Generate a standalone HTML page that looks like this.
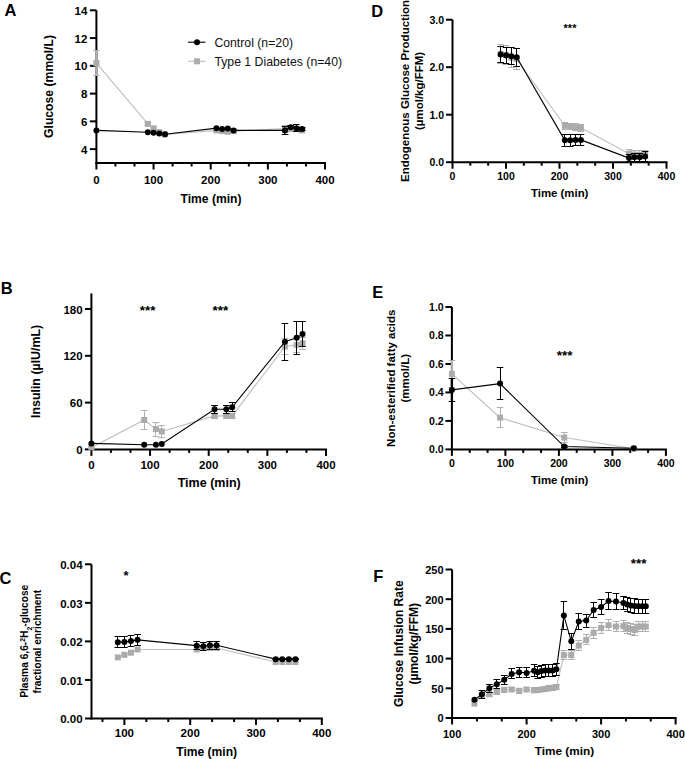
<!DOCTYPE html>
<html><head><meta charset="utf-8"><style>
html,body{margin:0;padding:0;background:#fff;}
svg{display:block;font-family:"Liberation Sans", sans-serif;}
</style></head><body>
<svg width="685" height="759" viewBox="0 0 685 759">
<rect width="685" height="759" fill="#fff"/>
<text x="4.60" y="15.80" font-size="16.5" font-weight="bold" text-anchor="start" fill="#000">A</text>
<line x1="96.40" y1="10.32" x2="96.40" y2="164.00" stroke="#000" stroke-width="2"/>
<line x1="95.40" y1="163.00" x2="326.00" y2="163.00" stroke="#000" stroke-width="2"/>
<line x1="89.90" y1="149.12" x2="96.40" y2="149.12" stroke="#000" stroke-width="2"/>
<text x="87.30" y="153.62" font-size="11.5" font-weight="bold" text-anchor="end" fill="#000">4</text>
<line x1="89.90" y1="121.36" x2="96.40" y2="121.36" stroke="#000" stroke-width="2"/>
<text x="87.30" y="125.86" font-size="11.5" font-weight="bold" text-anchor="end" fill="#000">6</text>
<line x1="89.90" y1="93.60" x2="96.40" y2="93.60" stroke="#000" stroke-width="2"/>
<text x="87.30" y="98.10" font-size="11.5" font-weight="bold" text-anchor="end" fill="#000">8</text>
<line x1="89.90" y1="65.84" x2="96.40" y2="65.84" stroke="#000" stroke-width="2"/>
<text x="87.30" y="70.34" font-size="11.5" font-weight="bold" text-anchor="end" fill="#000">10</text>
<line x1="89.90" y1="38.08" x2="96.40" y2="38.08" stroke="#000" stroke-width="2"/>
<text x="87.30" y="42.58" font-size="11.5" font-weight="bold" text-anchor="end" fill="#000">12</text>
<line x1="89.90" y1="10.32" x2="96.40" y2="10.32" stroke="#000" stroke-width="2"/>
<text x="87.30" y="14.82" font-size="11.5" font-weight="bold" text-anchor="end" fill="#000">14</text>
<line x1="96.40" y1="163.00" x2="96.40" y2="169.50" stroke="#000" stroke-width="2"/>
<text x="96.40" y="184.40" font-size="11.5" font-weight="bold" text-anchor="middle" fill="#000">0</text>
<line x1="153.55" y1="163.00" x2="153.55" y2="169.50" stroke="#000" stroke-width="2"/>
<text x="153.55" y="184.40" font-size="11.5" font-weight="bold" text-anchor="middle" fill="#000">100</text>
<line x1="210.70" y1="163.00" x2="210.70" y2="169.50" stroke="#000" stroke-width="2"/>
<text x="210.70" y="184.40" font-size="11.5" font-weight="bold" text-anchor="middle" fill="#000">200</text>
<line x1="267.85" y1="163.00" x2="267.85" y2="169.50" stroke="#000" stroke-width="2"/>
<text x="267.85" y="184.40" font-size="11.5" font-weight="bold" text-anchor="middle" fill="#000">300</text>
<line x1="325.00" y1="163.00" x2="325.00" y2="169.50" stroke="#000" stroke-width="2"/>
<text x="325.00" y="184.40" font-size="11.5" font-weight="bold" text-anchor="middle" fill="#000">400</text>
<line x1="115.45" y1="163.00" x2="115.45" y2="166.50" stroke="#000" stroke-width="2"/>
<line x1="134.50" y1="163.00" x2="134.50" y2="166.50" stroke="#000" stroke-width="2"/>
<line x1="172.60" y1="163.00" x2="172.60" y2="166.50" stroke="#000" stroke-width="2"/>
<line x1="191.65" y1="163.00" x2="191.65" y2="166.50" stroke="#000" stroke-width="2"/>
<line x1="229.75" y1="163.00" x2="229.75" y2="166.50" stroke="#000" stroke-width="2"/>
<line x1="248.80" y1="163.00" x2="248.80" y2="166.50" stroke="#000" stroke-width="2"/>
<line x1="286.90" y1="163.00" x2="286.90" y2="166.50" stroke="#000" stroke-width="2"/>
<line x1="305.95" y1="163.00" x2="305.95" y2="166.50" stroke="#000" stroke-width="2"/>
<text x="211.00" y="202.80" font-size="12.1" font-weight="bold" text-anchor="middle" fill="#000">Time (min)</text>
<text x="52.50" y="86.50" font-size="12.2" font-weight="bold" text-anchor="middle" transform="rotate(-90 52.5 86.5)" fill="#000">Glucose (mmol/L)</text>
<path d="M96.40,63.06 L147.84,123.86 L153.55,128.30 L159.27,132.19 L164.98,134.41 L216.42,130.38 L222.13,131.08 L227.84,131.77 L233.56,131.08 L285.00,128.58 L290.71,128.30 L296.43,128.99 L302.14,130.38" fill="none" stroke="#bebebe" stroke-width="1.1"/>
<line x1="96.40" y1="50.50" x2="96.40" y2="75.50" stroke="#b0b0b0" stroke-width="2.3"/>
<line x1="93.10" y1="50.50" x2="99.70" y2="50.50" stroke="#b0b0b0" stroke-width="1.0"/>
<line x1="93.10" y1="75.50" x2="99.70" y2="75.50" stroke="#b0b0b0" stroke-width="1.0"/>
<line x1="147.50" y1="122.50" x2="147.50" y2="125.50" stroke="#b0b0b0" stroke-width="1.0"/>
<line x1="144.53" y1="122.50" x2="151.14" y2="122.50" stroke="#b0b0b0" stroke-width="1.0"/>
<line x1="144.53" y1="125.50" x2="151.14" y2="125.50" stroke="#b0b0b0" stroke-width="1.0"/>
<line x1="153.50" y1="126.50" x2="153.50" y2="129.50" stroke="#b0b0b0" stroke-width="1.0"/>
<line x1="150.25" y1="126.50" x2="156.85" y2="126.50" stroke="#b0b0b0" stroke-width="1.0"/>
<line x1="150.25" y1="129.50" x2="156.85" y2="129.50" stroke="#b0b0b0" stroke-width="1.0"/>
<line x1="159.50" y1="130.50" x2="159.50" y2="133.50" stroke="#b0b0b0" stroke-width="1.0"/>
<line x1="155.97" y1="130.50" x2="162.57" y2="130.50" stroke="#b0b0b0" stroke-width="1.0"/>
<line x1="155.97" y1="133.50" x2="162.57" y2="133.50" stroke="#b0b0b0" stroke-width="1.0"/>
<line x1="164.50" y1="133.50" x2="164.50" y2="135.50" stroke="#b0b0b0" stroke-width="1.0"/>
<line x1="161.68" y1="133.50" x2="168.28" y2="133.50" stroke="#b0b0b0" stroke-width="1.0"/>
<line x1="161.68" y1="135.50" x2="168.28" y2="135.50" stroke="#b0b0b0" stroke-width="1.0"/>
<line x1="216.50" y1="128.50" x2="216.50" y2="131.50" stroke="#b0b0b0" stroke-width="1.0"/>
<line x1="213.12" y1="128.50" x2="219.72" y2="128.50" stroke="#b0b0b0" stroke-width="1.0"/>
<line x1="213.12" y1="131.50" x2="219.72" y2="131.50" stroke="#b0b0b0" stroke-width="1.0"/>
<line x1="222.50" y1="129.50" x2="222.50" y2="132.50" stroke="#b0b0b0" stroke-width="1.0"/>
<line x1="218.83" y1="129.50" x2="225.43" y2="129.50" stroke="#b0b0b0" stroke-width="1.0"/>
<line x1="218.83" y1="132.50" x2="225.43" y2="132.50" stroke="#b0b0b0" stroke-width="1.0"/>
<line x1="227.50" y1="130.50" x2="227.50" y2="133.50" stroke="#b0b0b0" stroke-width="1.0"/>
<line x1="224.54" y1="130.50" x2="231.15" y2="130.50" stroke="#b0b0b0" stroke-width="1.0"/>
<line x1="224.54" y1="133.50" x2="231.15" y2="133.50" stroke="#b0b0b0" stroke-width="1.0"/>
<line x1="233.50" y1="129.50" x2="233.50" y2="132.50" stroke="#b0b0b0" stroke-width="1.0"/>
<line x1="230.26" y1="129.50" x2="236.86" y2="129.50" stroke="#b0b0b0" stroke-width="1.0"/>
<line x1="230.26" y1="132.50" x2="236.86" y2="132.50" stroke="#b0b0b0" stroke-width="1.0"/>
<line x1="284.50" y1="125.50" x2="284.50" y2="132.50" stroke="#b0b0b0" stroke-width="1.0"/>
<line x1="281.69" y1="125.50" x2="288.30" y2="125.50" stroke="#b0b0b0" stroke-width="1.0"/>
<line x1="281.69" y1="132.50" x2="288.30" y2="132.50" stroke="#b0b0b0" stroke-width="1.0"/>
<line x1="290.50" y1="125.50" x2="290.50" y2="131.50" stroke="#b0b0b0" stroke-width="1.0"/>
<line x1="287.41" y1="125.50" x2="294.01" y2="125.50" stroke="#b0b0b0" stroke-width="1.0"/>
<line x1="287.41" y1="131.50" x2="294.01" y2="131.50" stroke="#b0b0b0" stroke-width="1.0"/>
<line x1="296.50" y1="126.50" x2="296.50" y2="131.50" stroke="#b0b0b0" stroke-width="1.0"/>
<line x1="293.12" y1="126.50" x2="299.73" y2="126.50" stroke="#b0b0b0" stroke-width="1.0"/>
<line x1="293.12" y1="131.50" x2="299.73" y2="131.50" stroke="#b0b0b0" stroke-width="1.0"/>
<line x1="302.50" y1="128.50" x2="302.50" y2="132.50" stroke="#b0b0b0" stroke-width="1.0"/>
<line x1="298.84" y1="128.50" x2="305.44" y2="128.50" stroke="#b0b0b0" stroke-width="1.0"/>
<line x1="298.84" y1="132.50" x2="305.44" y2="132.50" stroke="#b0b0b0" stroke-width="1.0"/>
<rect x="93.40" y="60.06" width="6.0" height="6.0" fill="#ababab"/>
<rect x="144.84" y="120.86" width="6.0" height="6.0" fill="#ababab"/>
<rect x="150.55" y="125.30" width="6.0" height="6.0" fill="#ababab"/>
<rect x="156.27" y="129.19" width="6.0" height="6.0" fill="#ababab"/>
<rect x="161.98" y="131.41" width="6.0" height="6.0" fill="#ababab"/>
<rect x="213.42" y="127.38" width="6.0" height="6.0" fill="#ababab"/>
<rect x="219.13" y="128.08" width="6.0" height="6.0" fill="#ababab"/>
<rect x="224.84" y="128.77" width="6.0" height="6.0" fill="#ababab"/>
<rect x="230.56" y="128.08" width="6.0" height="6.0" fill="#ababab"/>
<rect x="282.00" y="125.58" width="6.0" height="6.0" fill="#ababab"/>
<rect x="287.71" y="125.30" width="6.0" height="6.0" fill="#ababab"/>
<rect x="293.43" y="125.99" width="6.0" height="6.0" fill="#ababab"/>
<rect x="299.14" y="127.38" width="6.0" height="6.0" fill="#ababab"/>
<path d="M96.40,130.38 L147.84,132.19 L153.55,132.74 L159.27,133.57 L164.98,134.27 L216.42,128.16 L222.13,128.99 L227.84,128.44 L233.56,130.38 L285.00,130.38 L290.71,127.19 L296.43,128.16 L302.14,128.99" fill="none" stroke="#000" stroke-width="1.1"/>
<line x1="284.50" y1="126.50" x2="284.50" y2="134.50" stroke="#000" stroke-width="1.0"/>
<line x1="281.69" y1="126.50" x2="288.30" y2="126.50" stroke="#000" stroke-width="1.0"/>
<line x1="281.69" y1="134.50" x2="288.30" y2="134.50" stroke="#000" stroke-width="1.0"/>
<line x1="290.50" y1="125.50" x2="290.50" y2="128.50" stroke="#000" stroke-width="1.0"/>
<line x1="287.41" y1="125.50" x2="294.01" y2="125.50" stroke="#000" stroke-width="1.0"/>
<line x1="287.41" y1="128.50" x2="294.01" y2="128.50" stroke="#000" stroke-width="1.0"/>
<line x1="296.50" y1="124.50" x2="296.50" y2="131.50" stroke="#000" stroke-width="1.0"/>
<line x1="293.12" y1="124.50" x2="299.73" y2="124.50" stroke="#000" stroke-width="1.0"/>
<line x1="293.12" y1="131.50" x2="299.73" y2="131.50" stroke="#000" stroke-width="1.0"/>
<line x1="302.50" y1="127.50" x2="302.50" y2="130.50" stroke="#000" stroke-width="1.0"/>
<line x1="298.84" y1="127.50" x2="305.44" y2="127.50" stroke="#000" stroke-width="1.0"/>
<line x1="298.84" y1="130.50" x2="305.44" y2="130.50" stroke="#000" stroke-width="1.0"/>
<circle cx="96.40" cy="130.38" r="3.0" fill="#000"/>
<circle cx="147.84" cy="132.19" r="3.0" fill="#000"/>
<circle cx="153.55" cy="132.74" r="3.0" fill="#000"/>
<circle cx="159.27" cy="133.57" r="3.0" fill="#000"/>
<circle cx="164.98" cy="134.27" r="3.0" fill="#000"/>
<circle cx="216.42" cy="128.16" r="3.0" fill="#000"/>
<circle cx="222.13" cy="128.99" r="3.0" fill="#000"/>
<circle cx="227.84" cy="128.44" r="3.0" fill="#000"/>
<circle cx="233.56" cy="130.38" r="3.0" fill="#000"/>
<circle cx="285.00" cy="130.38" r="3.0" fill="#000"/>
<circle cx="290.71" cy="127.19" r="3.0" fill="#000"/>
<circle cx="296.43" cy="128.16" r="3.0" fill="#000"/>
<circle cx="302.14" cy="128.99" r="3.0" fill="#000"/>
<line x1="188.00" y1="42.20" x2="205.40" y2="42.20" stroke="#000" stroke-width="1.1"/>
<circle cx="197" cy="42.2" r="3.0" fill="#000"/>
<text x="214.40" y="46.80" font-size="12.25" font-weight="normal" text-anchor="start" fill="#111">Control (n=20)</text>
<line x1="188.00" y1="61.30" x2="205.40" y2="61.30" stroke="#bebebe" stroke-width="1.1"/>
<rect x="194" y="58.3" width="6" height="6" fill="#ababab"/>
<text x="214.40" y="65.80" font-size="12.25" font-weight="normal" text-anchor="start" fill="#111">Type 1 Diabetes (n=40)</text>
<text x="0.80" y="293.50" font-size="16.5" font-weight="bold" text-anchor="start" fill="#000">B</text>
<line x1="91.40" y1="293.40" x2="91.40" y2="450.40" stroke="#000" stroke-width="2"/>
<line x1="90.40" y1="449.40" x2="327.00" y2="449.40" stroke="#000" stroke-width="2"/>
<line x1="84.90" y1="449.40" x2="91.40" y2="449.40" stroke="#000" stroke-width="2"/>
<text x="82.60" y="453.90" font-size="11.5" font-weight="bold" text-anchor="end" fill="#000">0</text>
<line x1="84.90" y1="402.60" x2="91.40" y2="402.60" stroke="#000" stroke-width="2"/>
<text x="82.60" y="407.10" font-size="11.5" font-weight="bold" text-anchor="end" fill="#000">60</text>
<line x1="84.90" y1="355.80" x2="91.40" y2="355.80" stroke="#000" stroke-width="2"/>
<text x="82.60" y="360.30" font-size="11.5" font-weight="bold" text-anchor="end" fill="#000">120</text>
<line x1="84.90" y1="309.00" x2="91.40" y2="309.00" stroke="#000" stroke-width="2"/>
<text x="82.60" y="313.50" font-size="11.5" font-weight="bold" text-anchor="end" fill="#000">180</text>
<line x1="91.40" y1="449.40" x2="91.40" y2="455.90" stroke="#000" stroke-width="2"/>
<text x="91.40" y="468.90" font-size="11.5" font-weight="bold" text-anchor="middle" fill="#000">0</text>
<line x1="150.05" y1="449.40" x2="150.05" y2="455.90" stroke="#000" stroke-width="2"/>
<text x="150.05" y="468.90" font-size="11.5" font-weight="bold" text-anchor="middle" fill="#000">100</text>
<line x1="208.70" y1="449.40" x2="208.70" y2="455.90" stroke="#000" stroke-width="2"/>
<text x="208.70" y="468.90" font-size="11.5" font-weight="bold" text-anchor="middle" fill="#000">200</text>
<line x1="267.35" y1="449.40" x2="267.35" y2="455.90" stroke="#000" stroke-width="2"/>
<text x="267.35" y="468.90" font-size="11.5" font-weight="bold" text-anchor="middle" fill="#000">300</text>
<line x1="326.00" y1="449.40" x2="326.00" y2="455.90" stroke="#000" stroke-width="2"/>
<text x="326.00" y="468.90" font-size="11.5" font-weight="bold" text-anchor="middle" fill="#000">400</text>
<line x1="110.95" y1="449.40" x2="110.95" y2="452.90" stroke="#000" stroke-width="2"/>
<line x1="130.50" y1="449.40" x2="130.50" y2="452.90" stroke="#000" stroke-width="2"/>
<line x1="169.60" y1="449.40" x2="169.60" y2="452.90" stroke="#000" stroke-width="2"/>
<line x1="189.15" y1="449.40" x2="189.15" y2="452.90" stroke="#000" stroke-width="2"/>
<line x1="228.25" y1="449.40" x2="228.25" y2="452.90" stroke="#000" stroke-width="2"/>
<line x1="247.80" y1="449.40" x2="247.80" y2="452.90" stroke="#000" stroke-width="2"/>
<line x1="286.90" y1="449.40" x2="286.90" y2="452.90" stroke="#000" stroke-width="2"/>
<line x1="306.45" y1="449.40" x2="306.45" y2="452.90" stroke="#000" stroke-width="2"/>
<text x="209.20" y="486.90" font-size="12.5" font-weight="bold" text-anchor="middle" fill="#000">Time (min)</text>
<text x="40.20" y="371.40" font-size="12.4" font-weight="bold" text-anchor="middle" transform="rotate(-90 40.2 371.4)" fill="#000">Insulin (µIU/mL)</text>
<text x="147.70" y="314.80" font-size="13.5" font-weight="bold" text-anchor="middle" fill="#000">***</text>
<text x="220.30" y="315.20" font-size="13.5" font-weight="bold" text-anchor="middle" fill="#000">***</text>
<path d="M91.40,447.45 L144.19,419.99 L155.92,429.12 L161.78,431.46 L214.56,415.86 L226.30,415.86 L232.16,415.86 L284.95,346.44 L296.68,344.88 L302.54,343.32" fill="none" stroke="#bebebe" stroke-width="1.1"/>
<line x1="91.40" y1="446.50" x2="91.40" y2="448.50" stroke="#b0b0b0" stroke-width="2.3"/>
<line x1="88.10" y1="446.50" x2="94.70" y2="446.50" stroke="#b0b0b0" stroke-width="1.0"/>
<line x1="88.10" y1="448.50" x2="94.70" y2="448.50" stroke="#b0b0b0" stroke-width="1.0"/>
<line x1="144.50" y1="410.50" x2="144.50" y2="429.50" stroke="#b0b0b0" stroke-width="1.0"/>
<line x1="140.88" y1="410.50" x2="147.49" y2="410.50" stroke="#b0b0b0" stroke-width="1.0"/>
<line x1="140.88" y1="429.50" x2="147.49" y2="429.50" stroke="#b0b0b0" stroke-width="1.0"/>
<line x1="155.50" y1="422.50" x2="155.50" y2="436.50" stroke="#b0b0b0" stroke-width="1.0"/>
<line x1="152.62" y1="422.50" x2="159.22" y2="422.50" stroke="#b0b0b0" stroke-width="1.0"/>
<line x1="152.62" y1="436.50" x2="159.22" y2="436.50" stroke="#b0b0b0" stroke-width="1.0"/>
<line x1="161.50" y1="425.50" x2="161.50" y2="437.50" stroke="#b0b0b0" stroke-width="1.0"/>
<line x1="158.48" y1="425.50" x2="165.08" y2="425.50" stroke="#b0b0b0" stroke-width="1.0"/>
<line x1="158.48" y1="437.50" x2="165.08" y2="437.50" stroke="#b0b0b0" stroke-width="1.0"/>
<line x1="214.50" y1="413.50" x2="214.50" y2="418.50" stroke="#b0b0b0" stroke-width="1.0"/>
<line x1="211.26" y1="413.50" x2="217.87" y2="413.50" stroke="#b0b0b0" stroke-width="1.0"/>
<line x1="211.26" y1="418.50" x2="217.87" y2="418.50" stroke="#b0b0b0" stroke-width="1.0"/>
<line x1="226.50" y1="413.50" x2="226.50" y2="418.50" stroke="#b0b0b0" stroke-width="1.0"/>
<line x1="223.00" y1="413.50" x2="229.60" y2="413.50" stroke="#b0b0b0" stroke-width="1.0"/>
<line x1="223.00" y1="418.50" x2="229.60" y2="418.50" stroke="#b0b0b0" stroke-width="1.0"/>
<line x1="232.50" y1="413.50" x2="232.50" y2="418.50" stroke="#b0b0b0" stroke-width="1.0"/>
<line x1="228.86" y1="413.50" x2="235.46" y2="413.50" stroke="#b0b0b0" stroke-width="1.0"/>
<line x1="228.86" y1="418.50" x2="235.46" y2="418.50" stroke="#b0b0b0" stroke-width="1.0"/>
<line x1="284.50" y1="338.50" x2="284.50" y2="354.50" stroke="#b0b0b0" stroke-width="1.0"/>
<line x1="281.65" y1="338.50" x2="288.25" y2="338.50" stroke="#b0b0b0" stroke-width="1.0"/>
<line x1="281.65" y1="354.50" x2="288.25" y2="354.50" stroke="#b0b0b0" stroke-width="1.0"/>
<line x1="296.50" y1="337.50" x2="296.50" y2="352.50" stroke="#b0b0b0" stroke-width="1.0"/>
<line x1="293.38" y1="337.50" x2="299.98" y2="337.50" stroke="#b0b0b0" stroke-width="1.0"/>
<line x1="293.38" y1="352.50" x2="299.98" y2="352.50" stroke="#b0b0b0" stroke-width="1.0"/>
<line x1="302.50" y1="337.50" x2="302.50" y2="349.50" stroke="#b0b0b0" stroke-width="1.0"/>
<line x1="299.24" y1="337.50" x2="305.84" y2="337.50" stroke="#b0b0b0" stroke-width="1.0"/>
<line x1="299.24" y1="349.50" x2="305.84" y2="349.50" stroke="#b0b0b0" stroke-width="1.0"/>
<rect x="88.40" y="444.45" width="6.0" height="6.0" fill="#ababab"/>
<rect x="141.19" y="416.99" width="6.0" height="6.0" fill="#ababab"/>
<rect x="152.92" y="426.12" width="6.0" height="6.0" fill="#ababab"/>
<rect x="158.78" y="428.46" width="6.0" height="6.0" fill="#ababab"/>
<rect x="211.56" y="412.86" width="6.0" height="6.0" fill="#ababab"/>
<rect x="223.30" y="412.86" width="6.0" height="6.0" fill="#ababab"/>
<rect x="229.16" y="412.86" width="6.0" height="6.0" fill="#ababab"/>
<rect x="281.95" y="343.44" width="6.0" height="6.0" fill="#ababab"/>
<rect x="293.68" y="341.88" width="6.0" height="6.0" fill="#ababab"/>
<rect x="299.54" y="340.32" width="6.0" height="6.0" fill="#ababab"/>
<path d="M91.40,443.39 L144.19,444.72 L155.92,444.72 L161.78,443.94 L214.56,409.23 L226.30,409.23 L232.16,407.28 L284.95,341.76 L296.68,337.86 L302.54,333.96" fill="none" stroke="#000" stroke-width="1.1"/>
<line x1="214.50" y1="405.50" x2="214.50" y2="413.50" stroke="#000" stroke-width="1.0"/>
<line x1="211.26" y1="405.50" x2="217.87" y2="405.50" stroke="#000" stroke-width="1.0"/>
<line x1="211.26" y1="413.50" x2="217.87" y2="413.50" stroke="#000" stroke-width="1.0"/>
<line x1="226.50" y1="405.50" x2="226.50" y2="413.50" stroke="#000" stroke-width="1.0"/>
<line x1="223.00" y1="405.50" x2="229.60" y2="405.50" stroke="#000" stroke-width="1.0"/>
<line x1="223.00" y1="413.50" x2="229.60" y2="413.50" stroke="#000" stroke-width="1.0"/>
<line x1="232.50" y1="402.50" x2="232.50" y2="411.50" stroke="#000" stroke-width="1.0"/>
<line x1="228.86" y1="402.50" x2="235.46" y2="402.50" stroke="#000" stroke-width="1.0"/>
<line x1="228.86" y1="411.50" x2="235.46" y2="411.50" stroke="#000" stroke-width="1.0"/>
<line x1="284.50" y1="323.50" x2="284.50" y2="360.50" stroke="#000" stroke-width="1.0"/>
<line x1="281.65" y1="323.50" x2="288.25" y2="323.50" stroke="#000" stroke-width="1.0"/>
<line x1="281.65" y1="360.50" x2="288.25" y2="360.50" stroke="#000" stroke-width="1.0"/>
<line x1="296.50" y1="321.50" x2="296.50" y2="354.50" stroke="#000" stroke-width="1.0"/>
<line x1="293.38" y1="321.50" x2="299.98" y2="321.50" stroke="#000" stroke-width="1.0"/>
<line x1="293.38" y1="354.50" x2="299.98" y2="354.50" stroke="#000" stroke-width="1.0"/>
<line x1="302.50" y1="321.50" x2="302.50" y2="346.50" stroke="#000" stroke-width="1.0"/>
<line x1="299.24" y1="321.50" x2="305.84" y2="321.50" stroke="#000" stroke-width="1.0"/>
<line x1="299.24" y1="346.50" x2="305.84" y2="346.50" stroke="#000" stroke-width="1.0"/>
<circle cx="91.40" cy="443.39" r="3.0" fill="#000"/>
<circle cx="144.19" cy="444.72" r="3.0" fill="#000"/>
<circle cx="155.92" cy="444.72" r="3.0" fill="#000"/>
<circle cx="161.78" cy="443.94" r="3.0" fill="#000"/>
<circle cx="214.56" cy="409.23" r="3.0" fill="#000"/>
<circle cx="226.30" cy="409.23" r="3.0" fill="#000"/>
<circle cx="232.16" cy="407.28" r="3.0" fill="#000"/>
<circle cx="284.95" cy="341.76" r="3.0" fill="#000"/>
<circle cx="296.68" cy="337.86" r="3.0" fill="#000"/>
<circle cx="302.54" cy="333.96" r="3.0" fill="#000"/>
<text x="-0.40" y="584.30" font-size="16.5" font-weight="bold" text-anchor="start" fill="#000">C</text>
<line x1="91.50" y1="564.30" x2="91.50" y2="719.50" stroke="#000" stroke-width="2"/>
<line x1="90.50" y1="718.50" x2="322.80" y2="718.50" stroke="#000" stroke-width="2"/>
<line x1="85.00" y1="718.50" x2="91.50" y2="718.50" stroke="#000" stroke-width="2"/>
<text x="82.60" y="723.30" font-size="11.5" font-weight="bold" text-anchor="end" fill="#000">0.00</text>
<line x1="85.00" y1="679.95" x2="91.50" y2="679.95" stroke="#000" stroke-width="2"/>
<text x="82.60" y="684.75" font-size="11.5" font-weight="bold" text-anchor="end" fill="#000">0.01</text>
<line x1="85.00" y1="641.40" x2="91.50" y2="641.40" stroke="#000" stroke-width="2"/>
<text x="82.60" y="646.20" font-size="11.5" font-weight="bold" text-anchor="end" fill="#000">0.02</text>
<line x1="85.00" y1="602.85" x2="91.50" y2="602.85" stroke="#000" stroke-width="2"/>
<text x="82.60" y="607.65" font-size="11.5" font-weight="bold" text-anchor="end" fill="#000">0.03</text>
<line x1="85.00" y1="564.30" x2="91.50" y2="564.30" stroke="#000" stroke-width="2"/>
<text x="82.60" y="569.10" font-size="11.5" font-weight="bold" text-anchor="end" fill="#000">0.04</text>
<line x1="124.40" y1="718.50" x2="124.40" y2="725.00" stroke="#000" stroke-width="2"/>
<text x="124.40" y="737.20" font-size="11.5" font-weight="bold" text-anchor="middle" fill="#000">100</text>
<line x1="190.20" y1="718.50" x2="190.20" y2="725.00" stroke="#000" stroke-width="2"/>
<text x="190.20" y="737.20" font-size="11.5" font-weight="bold" text-anchor="middle" fill="#000">200</text>
<line x1="256.00" y1="718.50" x2="256.00" y2="725.00" stroke="#000" stroke-width="2"/>
<text x="256.00" y="737.20" font-size="11.5" font-weight="bold" text-anchor="middle" fill="#000">300</text>
<line x1="321.80" y1="718.50" x2="321.80" y2="725.00" stroke="#000" stroke-width="2"/>
<text x="321.80" y="737.20" font-size="11.5" font-weight="bold" text-anchor="middle" fill="#000">400</text>
<line x1="102.47" y1="718.50" x2="102.47" y2="722.00" stroke="#000" stroke-width="2"/>
<line x1="146.33" y1="718.50" x2="146.33" y2="722.00" stroke="#000" stroke-width="2"/>
<line x1="168.27" y1="718.50" x2="168.27" y2="722.00" stroke="#000" stroke-width="2"/>
<line x1="212.13" y1="718.50" x2="212.13" y2="722.00" stroke="#000" stroke-width="2"/>
<line x1="234.07" y1="718.50" x2="234.07" y2="722.00" stroke="#000" stroke-width="2"/>
<line x1="277.93" y1="718.50" x2="277.93" y2="722.00" stroke="#000" stroke-width="2"/>
<line x1="299.87" y1="718.50" x2="299.87" y2="722.00" stroke="#000" stroke-width="2"/>
<text x="206.70" y="756.10" font-size="12.1" font-weight="bold" text-anchor="middle" fill="#000">Time (min)</text>
<text x="28.30" y="641.30" font-size="10.2" font-weight="bold" text-anchor="middle" transform="rotate(-90 28.3 641.3)" fill="#000">Plasma 6,6-<tspan baseline-shift="super" font-size="7">2</tspan>H<tspan baseline-shift="sub" font-size="7">2</tspan>-glucose</text>
<text x="41.40" y="641.70" font-size="10.2" font-weight="bold" text-anchor="middle" transform="rotate(-90 41.4 641.7)" fill="#000">fractional enrichment</text>
<text x="126.00" y="580.40" font-size="13" font-weight="bold" text-anchor="middle" fill="#000">*</text>
<path d="M117.82,657.40 L124.40,654.82 L130.98,652.70 L137.56,649.50 L196.78,649.50 L203.36,647.95 L209.94,647.95 L216.52,647.95 L275.74,662.02 L282.32,662.02 L288.90,662.02 L295.48,662.02" fill="none" stroke="#bebebe" stroke-width="1.1"/>
<rect x="114.82" y="654.40" width="6.0" height="6.0" fill="#ababab"/>
<rect x="121.40" y="651.82" width="6.0" height="6.0" fill="#ababab"/>
<rect x="127.98" y="649.70" width="6.0" height="6.0" fill="#ababab"/>
<rect x="134.56" y="646.50" width="6.0" height="6.0" fill="#ababab"/>
<rect x="193.78" y="646.50" width="6.0" height="6.0" fill="#ababab"/>
<rect x="200.36" y="644.95" width="6.0" height="6.0" fill="#ababab"/>
<rect x="206.94" y="644.95" width="6.0" height="6.0" fill="#ababab"/>
<rect x="213.52" y="644.95" width="6.0" height="6.0" fill="#ababab"/>
<rect x="272.74" y="659.02" width="6.0" height="6.0" fill="#ababab"/>
<rect x="279.32" y="659.02" width="6.0" height="6.0" fill="#ababab"/>
<rect x="285.90" y="659.02" width="6.0" height="6.0" fill="#ababab"/>
<rect x="292.48" y="659.02" width="6.0" height="6.0" fill="#ababab"/>
<path d="M117.82,642.21 L124.40,641.90 L130.98,641.09 L137.56,639.86 L196.78,645.64 L203.36,646.22 L209.94,645.25 L216.52,645.25 L275.74,659.13 L282.32,659.13 L288.90,659.13 L295.48,659.13" fill="none" stroke="#000" stroke-width="1.1"/>
<line x1="117.50" y1="636.50" x2="117.50" y2="647.50" stroke="#000" stroke-width="1.0"/>
<line x1="114.52" y1="636.50" x2="121.12" y2="636.50" stroke="#000" stroke-width="1.0"/>
<line x1="114.52" y1="647.50" x2="121.12" y2="647.50" stroke="#000" stroke-width="1.0"/>
<line x1="124.50" y1="636.50" x2="124.50" y2="647.50" stroke="#000" stroke-width="1.0"/>
<line x1="121.10" y1="636.50" x2="127.70" y2="636.50" stroke="#000" stroke-width="1.0"/>
<line x1="121.10" y1="647.50" x2="127.70" y2="647.50" stroke="#000" stroke-width="1.0"/>
<line x1="130.50" y1="635.50" x2="130.50" y2="646.50" stroke="#000" stroke-width="1.0"/>
<line x1="127.68" y1="635.50" x2="134.28" y2="635.50" stroke="#000" stroke-width="1.0"/>
<line x1="127.68" y1="646.50" x2="134.28" y2="646.50" stroke="#000" stroke-width="1.0"/>
<line x1="137.50" y1="634.50" x2="137.50" y2="645.50" stroke="#000" stroke-width="1.0"/>
<line x1="134.26" y1="634.50" x2="140.86" y2="634.50" stroke="#000" stroke-width="1.0"/>
<line x1="134.26" y1="645.50" x2="140.86" y2="645.50" stroke="#000" stroke-width="1.0"/>
<line x1="196.50" y1="641.50" x2="196.50" y2="649.50" stroke="#000" stroke-width="1.0"/>
<line x1="193.48" y1="641.50" x2="200.08" y2="641.50" stroke="#000" stroke-width="1.0"/>
<line x1="193.48" y1="649.50" x2="200.08" y2="649.50" stroke="#000" stroke-width="1.0"/>
<line x1="203.50" y1="642.50" x2="203.50" y2="650.50" stroke="#000" stroke-width="1.0"/>
<line x1="200.06" y1="642.50" x2="206.66" y2="642.50" stroke="#000" stroke-width="1.0"/>
<line x1="200.06" y1="650.50" x2="206.66" y2="650.50" stroke="#000" stroke-width="1.0"/>
<line x1="209.50" y1="641.50" x2="209.50" y2="649.50" stroke="#000" stroke-width="1.0"/>
<line x1="206.64" y1="641.50" x2="213.24" y2="641.50" stroke="#000" stroke-width="1.0"/>
<line x1="206.64" y1="649.50" x2="213.24" y2="649.50" stroke="#000" stroke-width="1.0"/>
<line x1="216.50" y1="641.50" x2="216.50" y2="649.50" stroke="#000" stroke-width="1.0"/>
<line x1="213.22" y1="641.50" x2="219.82" y2="641.50" stroke="#000" stroke-width="1.0"/>
<line x1="213.22" y1="649.50" x2="219.82" y2="649.50" stroke="#000" stroke-width="1.0"/>
<line x1="275.50" y1="658.50" x2="275.50" y2="659.50" stroke="#000" stroke-width="1.0"/>
<line x1="272.44" y1="658.50" x2="279.04" y2="658.50" stroke="#000" stroke-width="1.0"/>
<line x1="272.44" y1="659.50" x2="279.04" y2="659.50" stroke="#000" stroke-width="1.0"/>
<line x1="282.50" y1="658.50" x2="282.50" y2="659.50" stroke="#000" stroke-width="1.0"/>
<line x1="279.02" y1="658.50" x2="285.62" y2="658.50" stroke="#000" stroke-width="1.0"/>
<line x1="279.02" y1="659.50" x2="285.62" y2="659.50" stroke="#000" stroke-width="1.0"/>
<line x1="288.50" y1="658.50" x2="288.50" y2="659.50" stroke="#000" stroke-width="1.0"/>
<line x1="285.60" y1="658.50" x2="292.20" y2="658.50" stroke="#000" stroke-width="1.0"/>
<line x1="285.60" y1="659.50" x2="292.20" y2="659.50" stroke="#000" stroke-width="1.0"/>
<line x1="295.50" y1="658.50" x2="295.50" y2="659.50" stroke="#000" stroke-width="1.0"/>
<line x1="292.18" y1="658.50" x2="298.78" y2="658.50" stroke="#000" stroke-width="1.0"/>
<line x1="292.18" y1="659.50" x2="298.78" y2="659.50" stroke="#000" stroke-width="1.0"/>
<circle cx="117.82" cy="642.21" r="3.0" fill="#000"/>
<circle cx="124.40" cy="641.90" r="3.0" fill="#000"/>
<circle cx="130.98" cy="641.09" r="3.0" fill="#000"/>
<circle cx="137.56" cy="639.86" r="3.0" fill="#000"/>
<circle cx="196.78" cy="645.64" r="3.0" fill="#000"/>
<circle cx="203.36" cy="646.22" r="3.0" fill="#000"/>
<circle cx="209.94" cy="645.25" r="3.0" fill="#000"/>
<circle cx="216.52" cy="645.25" r="3.0" fill="#000"/>
<circle cx="275.74" cy="659.13" r="3.0" fill="#000"/>
<circle cx="282.32" cy="659.13" r="3.0" fill="#000"/>
<circle cx="288.90" cy="659.13" r="3.0" fill="#000"/>
<circle cx="295.48" cy="659.13" r="3.0" fill="#000"/>
<text x="371.30" y="17.00" font-size="16.5" font-weight="bold" text-anchor="start" fill="#000">D</text>
<line x1="452.50" y1="19.70" x2="452.50" y2="163.20" stroke="#000" stroke-width="2"/>
<line x1="451.50" y1="162.20" x2="667.50" y2="162.20" stroke="#000" stroke-width="2"/>
<line x1="446.00" y1="162.20" x2="452.50" y2="162.20" stroke="#000" stroke-width="2"/>
<text x="444.00" y="166.30" font-size="10.5" font-weight="bold" text-anchor="end" fill="#000">0.0</text>
<line x1="446.00" y1="114.70" x2="452.50" y2="114.70" stroke="#000" stroke-width="2"/>
<text x="444.00" y="118.80" font-size="10.5" font-weight="bold" text-anchor="end" fill="#000">1.0</text>
<line x1="446.00" y1="67.20" x2="452.50" y2="67.20" stroke="#000" stroke-width="2"/>
<text x="444.00" y="71.30" font-size="10.5" font-weight="bold" text-anchor="end" fill="#000">2.0</text>
<line x1="446.00" y1="19.70" x2="452.50" y2="19.70" stroke="#000" stroke-width="2"/>
<text x="444.00" y="23.80" font-size="10.5" font-weight="bold" text-anchor="end" fill="#000">3.0</text>
<line x1="452.50" y1="162.20" x2="452.50" y2="168.70" stroke="#000" stroke-width="2"/>
<text x="452.50" y="180.10" font-size="10.5" font-weight="bold" text-anchor="middle" fill="#000">0</text>
<line x1="506.00" y1="162.20" x2="506.00" y2="168.70" stroke="#000" stroke-width="2"/>
<text x="506.00" y="180.10" font-size="10.5" font-weight="bold" text-anchor="middle" fill="#000">100</text>
<line x1="559.50" y1="162.20" x2="559.50" y2="168.70" stroke="#000" stroke-width="2"/>
<text x="559.50" y="180.10" font-size="10.5" font-weight="bold" text-anchor="middle" fill="#000">200</text>
<line x1="613.00" y1="162.20" x2="613.00" y2="168.70" stroke="#000" stroke-width="2"/>
<text x="613.00" y="180.10" font-size="10.5" font-weight="bold" text-anchor="middle" fill="#000">300</text>
<line x1="666.50" y1="162.20" x2="666.50" y2="168.70" stroke="#000" stroke-width="2"/>
<text x="666.50" y="180.10" font-size="10.5" font-weight="bold" text-anchor="middle" fill="#000">400</text>
<line x1="470.33" y1="162.20" x2="470.33" y2="165.70" stroke="#000" stroke-width="2"/>
<line x1="488.17" y1="162.20" x2="488.17" y2="165.70" stroke="#000" stroke-width="2"/>
<line x1="523.83" y1="162.20" x2="523.83" y2="165.70" stroke="#000" stroke-width="2"/>
<line x1="541.67" y1="162.20" x2="541.67" y2="165.70" stroke="#000" stroke-width="2"/>
<line x1="577.33" y1="162.20" x2="577.33" y2="165.70" stroke="#000" stroke-width="2"/>
<line x1="595.17" y1="162.20" x2="595.17" y2="165.70" stroke="#000" stroke-width="2"/>
<line x1="630.83" y1="162.20" x2="630.83" y2="165.70" stroke="#000" stroke-width="2"/>
<line x1="648.67" y1="162.20" x2="648.67" y2="165.70" stroke="#000" stroke-width="2"/>
<text x="559.70" y="197.20" font-size="11.4" font-weight="bold" text-anchor="middle" fill="#000">Time (min)</text>
<text x="408.60" y="90.90" font-size="11.5" font-weight="bold" text-anchor="middle" transform="rotate(-90 408.6 90.9)" fill="#000">Endogenous Glucose Production</text>
<text x="422.80" y="90.90" font-size="11.5" font-weight="bold" text-anchor="middle" transform="rotate(-90 422.8 90.9)" fill="#000">(µmol/kg/FFM)</text>
<text x="570.00" y="32.40" font-size="11" font-weight="bold" text-anchor="middle" fill="#000">***</text>
<path d="M500.65,53.90 L506.00,55.32 L511.35,57.70 L516.70,59.12 L564.85,125.81 L570.20,126.48 L575.55,127.14 L580.90,127.81 L629.05,153.65 L634.40,154.60 L639.75,154.84 L645.10,154.36" fill="none" stroke="#bebebe" stroke-width="1.1"/>
<line x1="500.50" y1="44.50" x2="500.50" y2="63.50" stroke="#b0b0b0" stroke-width="1.0"/>
<line x1="497.35" y1="44.50" x2="503.95" y2="44.50" stroke="#b0b0b0" stroke-width="1.0"/>
<line x1="497.35" y1="63.50" x2="503.95" y2="63.50" stroke="#b0b0b0" stroke-width="1.0"/>
<line x1="506.50" y1="45.50" x2="506.50" y2="64.50" stroke="#b0b0b0" stroke-width="1.0"/>
<line x1="502.70" y1="45.50" x2="509.30" y2="45.50" stroke="#b0b0b0" stroke-width="1.0"/>
<line x1="502.70" y1="64.50" x2="509.30" y2="64.50" stroke="#b0b0b0" stroke-width="1.0"/>
<line x1="511.50" y1="47.50" x2="511.50" y2="67.50" stroke="#b0b0b0" stroke-width="1.0"/>
<line x1="508.05" y1="47.50" x2="514.65" y2="47.50" stroke="#b0b0b0" stroke-width="1.0"/>
<line x1="508.05" y1="67.50" x2="514.65" y2="67.50" stroke="#b0b0b0" stroke-width="1.0"/>
<line x1="516.50" y1="48.50" x2="516.50" y2="69.50" stroke="#b0b0b0" stroke-width="1.0"/>
<line x1="513.40" y1="48.50" x2="520.00" y2="48.50" stroke="#b0b0b0" stroke-width="1.0"/>
<line x1="513.40" y1="69.50" x2="520.00" y2="69.50" stroke="#b0b0b0" stroke-width="1.0"/>
<line x1="564.50" y1="122.50" x2="564.50" y2="129.50" stroke="#b0b0b0" stroke-width="1.0"/>
<line x1="561.55" y1="122.50" x2="568.15" y2="122.50" stroke="#b0b0b0" stroke-width="1.0"/>
<line x1="561.55" y1="129.50" x2="568.15" y2="129.50" stroke="#b0b0b0" stroke-width="1.0"/>
<line x1="570.50" y1="123.50" x2="570.50" y2="129.50" stroke="#b0b0b0" stroke-width="1.0"/>
<line x1="566.90" y1="123.50" x2="573.50" y2="123.50" stroke="#b0b0b0" stroke-width="1.0"/>
<line x1="566.90" y1="129.50" x2="573.50" y2="129.50" stroke="#b0b0b0" stroke-width="1.0"/>
<line x1="575.50" y1="123.50" x2="575.50" y2="130.50" stroke="#b0b0b0" stroke-width="1.0"/>
<line x1="572.25" y1="123.50" x2="578.85" y2="123.50" stroke="#b0b0b0" stroke-width="1.0"/>
<line x1="572.25" y1="130.50" x2="578.85" y2="130.50" stroke="#b0b0b0" stroke-width="1.0"/>
<line x1="580.50" y1="124.50" x2="580.50" y2="131.50" stroke="#b0b0b0" stroke-width="1.0"/>
<line x1="577.60" y1="124.50" x2="584.20" y2="124.50" stroke="#b0b0b0" stroke-width="1.0"/>
<line x1="577.60" y1="131.50" x2="584.20" y2="131.50" stroke="#b0b0b0" stroke-width="1.0"/>
<line x1="629.50" y1="149.50" x2="629.50" y2="157.50" stroke="#b0b0b0" stroke-width="1.0"/>
<line x1="625.75" y1="149.50" x2="632.35" y2="149.50" stroke="#b0b0b0" stroke-width="1.0"/>
<line x1="625.75" y1="157.50" x2="632.35" y2="157.50" stroke="#b0b0b0" stroke-width="1.0"/>
<line x1="634.50" y1="150.50" x2="634.50" y2="158.50" stroke="#b0b0b0" stroke-width="1.0"/>
<line x1="631.10" y1="150.50" x2="637.70" y2="150.50" stroke="#b0b0b0" stroke-width="1.0"/>
<line x1="631.10" y1="158.50" x2="637.70" y2="158.50" stroke="#b0b0b0" stroke-width="1.0"/>
<line x1="639.50" y1="150.50" x2="639.50" y2="158.50" stroke="#b0b0b0" stroke-width="1.0"/>
<line x1="636.45" y1="150.50" x2="643.05" y2="150.50" stroke="#b0b0b0" stroke-width="1.0"/>
<line x1="636.45" y1="158.50" x2="643.05" y2="158.50" stroke="#b0b0b0" stroke-width="1.0"/>
<line x1="645.50" y1="150.50" x2="645.50" y2="158.50" stroke="#b0b0b0" stroke-width="1.0"/>
<line x1="641.80" y1="150.50" x2="648.40" y2="150.50" stroke="#b0b0b0" stroke-width="1.0"/>
<line x1="641.80" y1="158.50" x2="648.40" y2="158.50" stroke="#b0b0b0" stroke-width="1.0"/>
<rect x="497.65" y="50.90" width="6.0" height="6.0" fill="#ababab"/>
<rect x="503.00" y="52.32" width="6.0" height="6.0" fill="#ababab"/>
<rect x="508.35" y="54.70" width="6.0" height="6.0" fill="#ababab"/>
<rect x="513.70" y="56.12" width="6.0" height="6.0" fill="#ababab"/>
<rect x="561.85" y="122.81" width="6.0" height="6.0" fill="#ababab"/>
<rect x="567.20" y="123.48" width="6.0" height="6.0" fill="#ababab"/>
<rect x="572.55" y="124.14" width="6.0" height="6.0" fill="#ababab"/>
<rect x="577.90" y="124.81" width="6.0" height="6.0" fill="#ababab"/>
<rect x="626.05" y="150.65" width="6.0" height="6.0" fill="#ababab"/>
<rect x="631.40" y="151.60" width="6.0" height="6.0" fill="#ababab"/>
<rect x="636.75" y="151.84" width="6.0" height="6.0" fill="#ababab"/>
<rect x="642.10" y="151.36" width="6.0" height="6.0" fill="#ababab"/>
<path d="M500.65,54.61 L506.00,55.18 L511.35,56.37 L516.70,57.18 L564.85,140.35 L570.20,140.35 L575.55,139.88 L580.90,139.88 L629.05,158.11 L634.40,157.21 L639.75,157.21 L645.10,156.41" fill="none" stroke="#000" stroke-width="1.1"/>
<line x1="500.50" y1="46.50" x2="500.50" y2="62.50" stroke="#000" stroke-width="1.0"/>
<line x1="497.35" y1="46.50" x2="503.95" y2="46.50" stroke="#000" stroke-width="1.0"/>
<line x1="497.35" y1="62.50" x2="503.95" y2="62.50" stroke="#000" stroke-width="1.0"/>
<line x1="506.50" y1="47.50" x2="506.50" y2="63.50" stroke="#000" stroke-width="1.0"/>
<line x1="502.70" y1="47.50" x2="509.30" y2="47.50" stroke="#000" stroke-width="1.0"/>
<line x1="502.70" y1="63.50" x2="509.30" y2="63.50" stroke="#000" stroke-width="1.0"/>
<line x1="511.50" y1="47.50" x2="511.50" y2="64.50" stroke="#000" stroke-width="1.0"/>
<line x1="508.05" y1="47.50" x2="514.65" y2="47.50" stroke="#000" stroke-width="1.0"/>
<line x1="508.05" y1="64.50" x2="514.65" y2="64.50" stroke="#000" stroke-width="1.0"/>
<line x1="516.50" y1="48.50" x2="516.50" y2="66.50" stroke="#000" stroke-width="1.0"/>
<line x1="513.40" y1="48.50" x2="520.00" y2="48.50" stroke="#000" stroke-width="1.0"/>
<line x1="513.40" y1="66.50" x2="520.00" y2="66.50" stroke="#000" stroke-width="1.0"/>
<line x1="564.50" y1="134.50" x2="564.50" y2="146.50" stroke="#000" stroke-width="1.0"/>
<line x1="561.55" y1="134.50" x2="568.15" y2="134.50" stroke="#000" stroke-width="1.0"/>
<line x1="561.55" y1="146.50" x2="568.15" y2="146.50" stroke="#000" stroke-width="1.0"/>
<line x1="570.50" y1="134.50" x2="570.50" y2="146.50" stroke="#000" stroke-width="1.0"/>
<line x1="566.90" y1="134.50" x2="573.50" y2="134.50" stroke="#000" stroke-width="1.0"/>
<line x1="566.90" y1="146.50" x2="573.50" y2="146.50" stroke="#000" stroke-width="1.0"/>
<line x1="575.50" y1="134.50" x2="575.50" y2="145.50" stroke="#000" stroke-width="1.0"/>
<line x1="572.25" y1="134.50" x2="578.85" y2="134.50" stroke="#000" stroke-width="1.0"/>
<line x1="572.25" y1="145.50" x2="578.85" y2="145.50" stroke="#000" stroke-width="1.0"/>
<line x1="580.50" y1="134.50" x2="580.50" y2="145.50" stroke="#000" stroke-width="1.0"/>
<line x1="577.60" y1="134.50" x2="584.20" y2="134.50" stroke="#000" stroke-width="1.0"/>
<line x1="577.60" y1="145.50" x2="584.20" y2="145.50" stroke="#000" stroke-width="1.0"/>
<line x1="629.50" y1="154.50" x2="629.50" y2="161.50" stroke="#000" stroke-width="1.0"/>
<line x1="625.75" y1="154.50" x2="632.35" y2="154.50" stroke="#000" stroke-width="1.0"/>
<line x1="625.75" y1="161.50" x2="632.35" y2="161.50" stroke="#000" stroke-width="1.0"/>
<line x1="634.50" y1="153.50" x2="634.50" y2="161.50" stroke="#000" stroke-width="1.0"/>
<line x1="631.10" y1="153.50" x2="637.70" y2="153.50" stroke="#000" stroke-width="1.0"/>
<line x1="631.10" y1="161.50" x2="637.70" y2="161.50" stroke="#000" stroke-width="1.0"/>
<line x1="639.50" y1="153.50" x2="639.50" y2="161.50" stroke="#000" stroke-width="1.0"/>
<line x1="636.45" y1="153.50" x2="643.05" y2="153.50" stroke="#000" stroke-width="1.0"/>
<line x1="636.45" y1="161.50" x2="643.05" y2="161.50" stroke="#000" stroke-width="1.0"/>
<line x1="645.50" y1="151.50" x2="645.50" y2="161.50" stroke="#000" stroke-width="1.0"/>
<line x1="641.80" y1="151.50" x2="648.40" y2="151.50" stroke="#000" stroke-width="1.0"/>
<line x1="641.80" y1="161.50" x2="648.40" y2="161.50" stroke="#000" stroke-width="1.0"/>
<circle cx="500.65" cy="54.61" r="3.0" fill="#000"/>
<circle cx="506.00" cy="55.18" r="3.0" fill="#000"/>
<circle cx="511.35" cy="56.37" r="3.0" fill="#000"/>
<circle cx="516.70" cy="57.18" r="3.0" fill="#000"/>
<circle cx="564.85" cy="140.35" r="3.0" fill="#000"/>
<circle cx="570.20" cy="140.35" r="3.0" fill="#000"/>
<circle cx="575.55" cy="139.88" r="3.0" fill="#000"/>
<circle cx="580.90" cy="139.88" r="3.0" fill="#000"/>
<circle cx="629.05" cy="158.11" r="3.0" fill="#000"/>
<circle cx="634.40" cy="157.21" r="3.0" fill="#000"/>
<circle cx="639.75" cy="157.21" r="3.0" fill="#000"/>
<circle cx="645.10" cy="156.41" r="3.0" fill="#000"/>
<text x="372.20" y="298.40" font-size="16.5" font-weight="bold" text-anchor="start" fill="#000">E</text>
<line x1="451.90" y1="307.00" x2="451.90" y2="450.40" stroke="#000" stroke-width="2"/>
<line x1="450.90" y1="449.40" x2="666.90" y2="449.40" stroke="#000" stroke-width="2"/>
<line x1="445.40" y1="449.40" x2="451.90" y2="449.40" stroke="#000" stroke-width="2"/>
<text x="443.70" y="453.30" font-size="10.5" font-weight="bold" text-anchor="end" fill="#000">0.0</text>
<line x1="445.40" y1="420.92" x2="451.90" y2="420.92" stroke="#000" stroke-width="2"/>
<text x="443.70" y="424.82" font-size="10.5" font-weight="bold" text-anchor="end" fill="#000">0.2</text>
<line x1="445.40" y1="392.44" x2="451.90" y2="392.44" stroke="#000" stroke-width="2"/>
<text x="443.70" y="396.34" font-size="10.5" font-weight="bold" text-anchor="end" fill="#000">0.4</text>
<line x1="445.40" y1="363.96" x2="451.90" y2="363.96" stroke="#000" stroke-width="2"/>
<text x="443.70" y="367.86" font-size="10.5" font-weight="bold" text-anchor="end" fill="#000">0.6</text>
<line x1="445.40" y1="335.48" x2="451.90" y2="335.48" stroke="#000" stroke-width="2"/>
<text x="443.70" y="339.38" font-size="10.5" font-weight="bold" text-anchor="end" fill="#000">0.8</text>
<line x1="445.40" y1="307.00" x2="451.90" y2="307.00" stroke="#000" stroke-width="2"/>
<text x="443.70" y="310.90" font-size="10.5" font-weight="bold" text-anchor="end" fill="#000">1.0</text>
<line x1="451.90" y1="449.40" x2="451.90" y2="455.90" stroke="#000" stroke-width="2"/>
<text x="451.90" y="467.20" font-size="10.5" font-weight="bold" text-anchor="middle" fill="#000">0</text>
<line x1="505.40" y1="449.40" x2="505.40" y2="455.90" stroke="#000" stroke-width="2"/>
<text x="505.40" y="467.20" font-size="10.5" font-weight="bold" text-anchor="middle" fill="#000">100</text>
<line x1="558.90" y1="449.40" x2="558.90" y2="455.90" stroke="#000" stroke-width="2"/>
<text x="558.90" y="467.20" font-size="10.5" font-weight="bold" text-anchor="middle" fill="#000">200</text>
<line x1="612.40" y1="449.40" x2="612.40" y2="455.90" stroke="#000" stroke-width="2"/>
<text x="612.40" y="467.20" font-size="10.5" font-weight="bold" text-anchor="middle" fill="#000">300</text>
<line x1="665.90" y1="449.40" x2="665.90" y2="455.90" stroke="#000" stroke-width="2"/>
<text x="665.90" y="467.20" font-size="10.5" font-weight="bold" text-anchor="middle" fill="#000">400</text>
<line x1="469.73" y1="449.40" x2="469.73" y2="452.90" stroke="#000" stroke-width="2"/>
<line x1="487.57" y1="449.40" x2="487.57" y2="452.90" stroke="#000" stroke-width="2"/>
<line x1="523.23" y1="449.40" x2="523.23" y2="452.90" stroke="#000" stroke-width="2"/>
<line x1="541.07" y1="449.40" x2="541.07" y2="452.90" stroke="#000" stroke-width="2"/>
<line x1="576.73" y1="449.40" x2="576.73" y2="452.90" stroke="#000" stroke-width="2"/>
<line x1="594.57" y1="449.40" x2="594.57" y2="452.90" stroke="#000" stroke-width="2"/>
<line x1="630.23" y1="449.40" x2="630.23" y2="452.90" stroke="#000" stroke-width="2"/>
<line x1="648.07" y1="449.40" x2="648.07" y2="452.90" stroke="#000" stroke-width="2"/>
<text x="559.70" y="484.20" font-size="11.4" font-weight="bold" text-anchor="middle" fill="#000">Time (min)</text>
<text x="395.00" y="378.20" font-size="11.5" font-weight="bold" text-anchor="middle" transform="rotate(-90 395 378.2)" fill="#000">Non-esterified fatty acids</text>
<text x="408.60" y="378.20" font-size="11.5" font-weight="bold" text-anchor="middle" transform="rotate(-90 408.6 378.2)" fill="#000">(mmol/L)</text>
<text x="564.70" y="360.40" font-size="13.5" font-weight="bold" text-anchor="middle" fill="#000">***</text>
<path d="M451.90,373.93 L500.05,417.64 L564.25,437.58 L633.80,448.69" fill="none" stroke="#bebebe" stroke-width="1.1"/>
<line x1="451.90" y1="360.50" x2="451.90" y2="387.50" stroke="#b0b0b0" stroke-width="2.3"/>
<line x1="448.60" y1="360.50" x2="455.20" y2="360.50" stroke="#b0b0b0" stroke-width="1.0"/>
<line x1="448.60" y1="387.50" x2="455.20" y2="387.50" stroke="#b0b0b0" stroke-width="1.0"/>
<line x1="500.50" y1="407.50" x2="500.50" y2="427.50" stroke="#b0b0b0" stroke-width="1.0"/>
<line x1="496.75" y1="407.50" x2="503.35" y2="407.50" stroke="#b0b0b0" stroke-width="1.0"/>
<line x1="496.75" y1="427.50" x2="503.35" y2="427.50" stroke="#b0b0b0" stroke-width="1.0"/>
<line x1="564.50" y1="432.50" x2="564.50" y2="442.50" stroke="#b0b0b0" stroke-width="1.0"/>
<line x1="560.95" y1="432.50" x2="567.55" y2="432.50" stroke="#b0b0b0" stroke-width="1.0"/>
<line x1="560.95" y1="442.50" x2="567.55" y2="442.50" stroke="#b0b0b0" stroke-width="1.0"/>
<rect x="448.90" y="370.93" width="6.0" height="6.0" fill="#ababab"/>
<rect x="497.05" y="414.64" width="6.0" height="6.0" fill="#ababab"/>
<rect x="561.25" y="434.58" width="6.0" height="6.0" fill="#ababab"/>
<rect x="630.80" y="445.69" width="6.0" height="6.0" fill="#ababab"/>
<path d="M451.90,389.88 L500.05,383.61 L564.25,446.55 L633.80,448.26" fill="none" stroke="#000" stroke-width="1.1"/>
<line x1="451.90" y1="378.50" x2="451.90" y2="401.50" stroke="#000" stroke-width="2.3"/>
<line x1="448.60" y1="378.50" x2="455.20" y2="378.50" stroke="#000" stroke-width="1.0"/>
<line x1="448.60" y1="401.50" x2="455.20" y2="401.50" stroke="#000" stroke-width="1.0"/>
<line x1="500.50" y1="367.50" x2="500.50" y2="399.50" stroke="#000" stroke-width="1.0"/>
<line x1="496.75" y1="367.50" x2="503.35" y2="367.50" stroke="#000" stroke-width="1.0"/>
<line x1="496.75" y1="399.50" x2="503.35" y2="399.50" stroke="#000" stroke-width="1.0"/>
<line x1="564.50" y1="445.50" x2="564.50" y2="447.50" stroke="#000" stroke-width="1.0"/>
<line x1="560.95" y1="445.50" x2="567.55" y2="445.50" stroke="#000" stroke-width="1.0"/>
<line x1="560.95" y1="447.50" x2="567.55" y2="447.50" stroke="#000" stroke-width="1.0"/>
<circle cx="451.90" cy="389.88" r="3.0" fill="#000"/>
<circle cx="500.05" cy="383.61" r="3.0" fill="#000"/>
<circle cx="564.25" cy="446.55" r="3.0" fill="#000"/>
<circle cx="633.80" cy="448.26" r="3.0" fill="#000"/>
<text x="373.30" y="582.40" font-size="16.5" font-weight="bold" text-anchor="start" fill="#000">F</text>
<line x1="452.10" y1="569.50" x2="452.10" y2="719.00" stroke="#000" stroke-width="2"/>
<line x1="451.10" y1="718.00" x2="676.60" y2="718.00" stroke="#000" stroke-width="2"/>
<line x1="445.60" y1="718.00" x2="452.10" y2="718.00" stroke="#000" stroke-width="2"/>
<text x="443.60" y="722.30" font-size="11" font-weight="bold" text-anchor="end" fill="#000">0</text>
<line x1="445.60" y1="688.30" x2="452.10" y2="688.30" stroke="#000" stroke-width="2"/>
<text x="443.60" y="692.60" font-size="11" font-weight="bold" text-anchor="end" fill="#000">50</text>
<line x1="445.60" y1="658.60" x2="452.10" y2="658.60" stroke="#000" stroke-width="2"/>
<text x="443.60" y="662.90" font-size="11" font-weight="bold" text-anchor="end" fill="#000">100</text>
<line x1="445.60" y1="628.90" x2="452.10" y2="628.90" stroke="#000" stroke-width="2"/>
<text x="443.60" y="633.20" font-size="11" font-weight="bold" text-anchor="end" fill="#000">150</text>
<line x1="445.60" y1="599.20" x2="452.10" y2="599.20" stroke="#000" stroke-width="2"/>
<text x="443.60" y="603.50" font-size="11" font-weight="bold" text-anchor="end" fill="#000">200</text>
<line x1="445.60" y1="569.50" x2="452.10" y2="569.50" stroke="#000" stroke-width="2"/>
<text x="443.60" y="573.80" font-size="11" font-weight="bold" text-anchor="end" fill="#000">250</text>
<line x1="452.10" y1="718.00" x2="452.10" y2="724.50" stroke="#000" stroke-width="2"/>
<text x="452.10" y="737.60" font-size="11" font-weight="bold" text-anchor="middle" fill="#000">100</text>
<line x1="526.60" y1="718.00" x2="526.60" y2="724.50" stroke="#000" stroke-width="2"/>
<text x="526.60" y="737.60" font-size="11" font-weight="bold" text-anchor="middle" fill="#000">200</text>
<line x1="601.10" y1="718.00" x2="601.10" y2="724.50" stroke="#000" stroke-width="2"/>
<text x="601.10" y="737.60" font-size="11" font-weight="bold" text-anchor="middle" fill="#000">300</text>
<line x1="675.60" y1="718.00" x2="675.60" y2="724.50" stroke="#000" stroke-width="2"/>
<text x="675.60" y="737.60" font-size="11" font-weight="bold" text-anchor="middle" fill="#000">400</text>
<line x1="476.93" y1="718.00" x2="476.93" y2="721.50" stroke="#000" stroke-width="2"/>
<line x1="501.77" y1="718.00" x2="501.77" y2="721.50" stroke="#000" stroke-width="2"/>
<line x1="551.43" y1="718.00" x2="551.43" y2="721.50" stroke="#000" stroke-width="2"/>
<line x1="576.27" y1="718.00" x2="576.27" y2="721.50" stroke="#000" stroke-width="2"/>
<line x1="625.93" y1="718.00" x2="625.93" y2="721.50" stroke="#000" stroke-width="2"/>
<line x1="650.77" y1="718.00" x2="650.77" y2="721.50" stroke="#000" stroke-width="2"/>
<text x="564.40" y="755.40" font-size="11.8" font-weight="bold" text-anchor="middle" fill="#000">Time (min)</text>
<text x="403.20" y="643.70" font-size="12" font-weight="bold" text-anchor="middle" transform="rotate(-90 403.2 643.7)" fill="#000">Glucose Infusion Rate</text>
<text x="417.80" y="643.70" font-size="12" font-weight="bold" text-anchor="middle" transform="rotate(-90 417.8 643.7)" fill="#000">(µmol/kg/FFM)</text>
<text x="638.60" y="568.30" font-size="13.5" font-weight="bold" text-anchor="middle" fill="#000">***</text>
<path d="M474.45,703.63 L481.90,696.02 L489.35,694.24 L496.80,691.63 L504.25,689.73 L511.70,689.49 L519.15,690.79 L526.60,689.49 L534.05,690.32 L537.77,690.08 L541.50,689.49 L545.23,688.89 L548.95,688.30 L552.68,687.71 L556.40,687.11 L563.85,655.04 L571.30,655.04 L578.75,645.53 L586.20,639.83 L593.65,632.82 L601.10,628.01 L608.55,625.22 L616.00,626.58 L623.45,626.11 L627.17,628.01 L630.90,629.02 L634.62,630.09 L638.35,626.58 L642.08,626.58 L645.80,626.58" fill="none" stroke="#bebebe" stroke-width="1.1"/>
<line x1="481.50" y1="694.50" x2="481.50" y2="697.50" stroke="#b0b0b0" stroke-width="1.0"/>
<line x1="478.60" y1="694.50" x2="485.20" y2="694.50" stroke="#b0b0b0" stroke-width="1.0"/>
<line x1="478.60" y1="697.50" x2="485.20" y2="697.50" stroke="#b0b0b0" stroke-width="1.0"/>
<line x1="489.50" y1="692.50" x2="489.50" y2="696.50" stroke="#b0b0b0" stroke-width="1.0"/>
<line x1="486.05" y1="692.50" x2="492.65" y2="692.50" stroke="#b0b0b0" stroke-width="1.0"/>
<line x1="486.05" y1="696.50" x2="492.65" y2="696.50" stroke="#b0b0b0" stroke-width="1.0"/>
<line x1="496.50" y1="689.50" x2="496.50" y2="694.50" stroke="#b0b0b0" stroke-width="1.0"/>
<line x1="493.50" y1="689.50" x2="500.10" y2="689.50" stroke="#b0b0b0" stroke-width="1.0"/>
<line x1="493.50" y1="694.50" x2="500.10" y2="694.50" stroke="#b0b0b0" stroke-width="1.0"/>
<line x1="504.50" y1="687.50" x2="504.50" y2="692.50" stroke="#b0b0b0" stroke-width="1.0"/>
<line x1="500.95" y1="687.50" x2="507.55" y2="687.50" stroke="#b0b0b0" stroke-width="1.0"/>
<line x1="500.95" y1="692.50" x2="507.55" y2="692.50" stroke="#b0b0b0" stroke-width="1.0"/>
<line x1="511.50" y1="687.50" x2="511.50" y2="691.50" stroke="#b0b0b0" stroke-width="1.0"/>
<line x1="508.40" y1="687.50" x2="515.00" y2="687.50" stroke="#b0b0b0" stroke-width="1.0"/>
<line x1="508.40" y1="691.50" x2="515.00" y2="691.50" stroke="#b0b0b0" stroke-width="1.0"/>
<line x1="519.50" y1="688.50" x2="519.50" y2="693.50" stroke="#b0b0b0" stroke-width="1.0"/>
<line x1="515.85" y1="688.50" x2="522.45" y2="688.50" stroke="#b0b0b0" stroke-width="1.0"/>
<line x1="515.85" y1="693.50" x2="522.45" y2="693.50" stroke="#b0b0b0" stroke-width="1.0"/>
<line x1="526.50" y1="687.50" x2="526.50" y2="691.50" stroke="#b0b0b0" stroke-width="1.0"/>
<line x1="523.30" y1="687.50" x2="529.90" y2="687.50" stroke="#b0b0b0" stroke-width="1.0"/>
<line x1="523.30" y1="691.50" x2="529.90" y2="691.50" stroke="#b0b0b0" stroke-width="1.0"/>
<line x1="534.50" y1="687.50" x2="534.50" y2="692.50" stroke="#b0b0b0" stroke-width="1.0"/>
<line x1="530.75" y1="687.50" x2="537.35" y2="687.50" stroke="#b0b0b0" stroke-width="1.0"/>
<line x1="530.75" y1="692.50" x2="537.35" y2="692.50" stroke="#b0b0b0" stroke-width="1.0"/>
<line x1="537.50" y1="687.50" x2="537.50" y2="692.50" stroke="#b0b0b0" stroke-width="1.0"/>
<line x1="534.48" y1="687.50" x2="541.07" y2="687.50" stroke="#b0b0b0" stroke-width="1.0"/>
<line x1="534.48" y1="692.50" x2="541.07" y2="692.50" stroke="#b0b0b0" stroke-width="1.0"/>
<line x1="541.50" y1="687.50" x2="541.50" y2="691.50" stroke="#b0b0b0" stroke-width="1.0"/>
<line x1="538.20" y1="687.50" x2="544.80" y2="687.50" stroke="#b0b0b0" stroke-width="1.0"/>
<line x1="538.20" y1="691.50" x2="544.80" y2="691.50" stroke="#b0b0b0" stroke-width="1.0"/>
<line x1="545.50" y1="686.50" x2="545.50" y2="691.50" stroke="#b0b0b0" stroke-width="1.0"/>
<line x1="541.93" y1="686.50" x2="548.52" y2="686.50" stroke="#b0b0b0" stroke-width="1.0"/>
<line x1="541.93" y1="691.50" x2="548.52" y2="691.50" stroke="#b0b0b0" stroke-width="1.0"/>
<line x1="548.50" y1="685.50" x2="548.50" y2="690.50" stroke="#b0b0b0" stroke-width="1.0"/>
<line x1="545.65" y1="685.50" x2="552.25" y2="685.50" stroke="#b0b0b0" stroke-width="1.0"/>
<line x1="545.65" y1="690.50" x2="552.25" y2="690.50" stroke="#b0b0b0" stroke-width="1.0"/>
<line x1="552.50" y1="685.50" x2="552.50" y2="690.50" stroke="#b0b0b0" stroke-width="1.0"/>
<line x1="549.38" y1="685.50" x2="555.98" y2="685.50" stroke="#b0b0b0" stroke-width="1.0"/>
<line x1="549.38" y1="690.50" x2="555.98" y2="690.50" stroke="#b0b0b0" stroke-width="1.0"/>
<line x1="556.50" y1="684.50" x2="556.50" y2="689.50" stroke="#b0b0b0" stroke-width="1.0"/>
<line x1="553.10" y1="684.50" x2="559.70" y2="684.50" stroke="#b0b0b0" stroke-width="1.0"/>
<line x1="553.10" y1="689.50" x2="559.70" y2="689.50" stroke="#b0b0b0" stroke-width="1.0"/>
<line x1="563.50" y1="650.50" x2="563.50" y2="659.50" stroke="#b0b0b0" stroke-width="1.0"/>
<line x1="560.55" y1="650.50" x2="567.15" y2="650.50" stroke="#b0b0b0" stroke-width="1.0"/>
<line x1="560.55" y1="659.50" x2="567.15" y2="659.50" stroke="#b0b0b0" stroke-width="1.0"/>
<line x1="571.50" y1="650.50" x2="571.50" y2="659.50" stroke="#b0b0b0" stroke-width="1.0"/>
<line x1="568.00" y1="650.50" x2="574.60" y2="650.50" stroke="#b0b0b0" stroke-width="1.0"/>
<line x1="568.00" y1="659.50" x2="574.60" y2="659.50" stroke="#b0b0b0" stroke-width="1.0"/>
<line x1="578.50" y1="640.50" x2="578.50" y2="650.50" stroke="#b0b0b0" stroke-width="1.0"/>
<line x1="575.45" y1="640.50" x2="582.05" y2="640.50" stroke="#b0b0b0" stroke-width="1.0"/>
<line x1="575.45" y1="650.50" x2="582.05" y2="650.50" stroke="#b0b0b0" stroke-width="1.0"/>
<line x1="586.50" y1="634.50" x2="586.50" y2="644.50" stroke="#b0b0b0" stroke-width="1.0"/>
<line x1="582.90" y1="634.50" x2="589.50" y2="634.50" stroke="#b0b0b0" stroke-width="1.0"/>
<line x1="582.90" y1="644.50" x2="589.50" y2="644.50" stroke="#b0b0b0" stroke-width="1.0"/>
<line x1="593.50" y1="627.50" x2="593.50" y2="638.50" stroke="#b0b0b0" stroke-width="1.0"/>
<line x1="590.35" y1="627.50" x2="596.95" y2="627.50" stroke="#b0b0b0" stroke-width="1.0"/>
<line x1="590.35" y1="638.50" x2="596.95" y2="638.50" stroke="#b0b0b0" stroke-width="1.0"/>
<line x1="601.50" y1="622.50" x2="601.50" y2="633.50" stroke="#b0b0b0" stroke-width="1.0"/>
<line x1="597.80" y1="622.50" x2="604.40" y2="622.50" stroke="#b0b0b0" stroke-width="1.0"/>
<line x1="597.80" y1="633.50" x2="604.40" y2="633.50" stroke="#b0b0b0" stroke-width="1.0"/>
<line x1="608.50" y1="619.50" x2="608.50" y2="630.50" stroke="#b0b0b0" stroke-width="1.0"/>
<line x1="605.25" y1="619.50" x2="611.85" y2="619.50" stroke="#b0b0b0" stroke-width="1.0"/>
<line x1="605.25" y1="630.50" x2="611.85" y2="630.50" stroke="#b0b0b0" stroke-width="1.0"/>
<line x1="616.50" y1="621.50" x2="616.50" y2="631.50" stroke="#b0b0b0" stroke-width="1.0"/>
<line x1="612.70" y1="621.50" x2="619.30" y2="621.50" stroke="#b0b0b0" stroke-width="1.0"/>
<line x1="612.70" y1="631.50" x2="619.30" y2="631.50" stroke="#b0b0b0" stroke-width="1.0"/>
<line x1="623.50" y1="620.50" x2="623.50" y2="631.50" stroke="#b0b0b0" stroke-width="1.0"/>
<line x1="620.15" y1="620.50" x2="626.75" y2="620.50" stroke="#b0b0b0" stroke-width="1.0"/>
<line x1="620.15" y1="631.50" x2="626.75" y2="631.50" stroke="#b0b0b0" stroke-width="1.0"/>
<line x1="627.50" y1="622.50" x2="627.50" y2="633.50" stroke="#b0b0b0" stroke-width="1.0"/>
<line x1="623.88" y1="622.50" x2="630.47" y2="622.50" stroke="#b0b0b0" stroke-width="1.0"/>
<line x1="623.88" y1="633.50" x2="630.47" y2="633.50" stroke="#b0b0b0" stroke-width="1.0"/>
<line x1="630.50" y1="623.50" x2="630.50" y2="634.50" stroke="#b0b0b0" stroke-width="1.0"/>
<line x1="627.60" y1="623.50" x2="634.20" y2="623.50" stroke="#b0b0b0" stroke-width="1.0"/>
<line x1="627.60" y1="634.50" x2="634.20" y2="634.50" stroke="#b0b0b0" stroke-width="1.0"/>
<line x1="634.50" y1="624.50" x2="634.50" y2="635.50" stroke="#b0b0b0" stroke-width="1.0"/>
<line x1="631.33" y1="624.50" x2="637.92" y2="624.50" stroke="#b0b0b0" stroke-width="1.0"/>
<line x1="631.33" y1="635.50" x2="637.92" y2="635.50" stroke="#b0b0b0" stroke-width="1.0"/>
<line x1="638.50" y1="621.50" x2="638.50" y2="631.50" stroke="#b0b0b0" stroke-width="1.0"/>
<line x1="635.05" y1="621.50" x2="641.65" y2="621.50" stroke="#b0b0b0" stroke-width="1.0"/>
<line x1="635.05" y1="631.50" x2="641.65" y2="631.50" stroke="#b0b0b0" stroke-width="1.0"/>
<line x1="642.50" y1="621.50" x2="642.50" y2="631.50" stroke="#b0b0b0" stroke-width="1.0"/>
<line x1="638.78" y1="621.50" x2="645.38" y2="621.50" stroke="#b0b0b0" stroke-width="1.0"/>
<line x1="638.78" y1="631.50" x2="645.38" y2="631.50" stroke="#b0b0b0" stroke-width="1.0"/>
<line x1="645.50" y1="621.50" x2="645.50" y2="631.50" stroke="#b0b0b0" stroke-width="1.0"/>
<line x1="642.50" y1="621.50" x2="649.10" y2="621.50" stroke="#b0b0b0" stroke-width="1.0"/>
<line x1="642.50" y1="631.50" x2="649.10" y2="631.50" stroke="#b0b0b0" stroke-width="1.0"/>
<rect x="471.45" y="700.63" width="6.0" height="6.0" fill="#ababab"/>
<rect x="478.90" y="693.02" width="6.0" height="6.0" fill="#ababab"/>
<rect x="486.35" y="691.24" width="6.0" height="6.0" fill="#ababab"/>
<rect x="493.80" y="688.63" width="6.0" height="6.0" fill="#ababab"/>
<rect x="501.25" y="686.73" width="6.0" height="6.0" fill="#ababab"/>
<rect x="508.70" y="686.49" width="6.0" height="6.0" fill="#ababab"/>
<rect x="516.15" y="687.79" width="6.0" height="6.0" fill="#ababab"/>
<rect x="523.60" y="686.49" width="6.0" height="6.0" fill="#ababab"/>
<rect x="531.05" y="687.32" width="6.0" height="6.0" fill="#ababab"/>
<rect x="534.77" y="687.08" width="6.0" height="6.0" fill="#ababab"/>
<rect x="538.50" y="686.49" width="6.0" height="6.0" fill="#ababab"/>
<rect x="542.23" y="685.89" width="6.0" height="6.0" fill="#ababab"/>
<rect x="545.95" y="685.30" width="6.0" height="6.0" fill="#ababab"/>
<rect x="549.68" y="684.71" width="6.0" height="6.0" fill="#ababab"/>
<rect x="553.40" y="684.11" width="6.0" height="6.0" fill="#ababab"/>
<rect x="560.85" y="652.04" width="6.0" height="6.0" fill="#ababab"/>
<rect x="568.30" y="652.04" width="6.0" height="6.0" fill="#ababab"/>
<rect x="575.75" y="642.53" width="6.0" height="6.0" fill="#ababab"/>
<rect x="583.20" y="636.83" width="6.0" height="6.0" fill="#ababab"/>
<rect x="590.65" y="629.82" width="6.0" height="6.0" fill="#ababab"/>
<rect x="598.10" y="625.01" width="6.0" height="6.0" fill="#ababab"/>
<rect x="605.55" y="622.22" width="6.0" height="6.0" fill="#ababab"/>
<rect x="613.00" y="623.58" width="6.0" height="6.0" fill="#ababab"/>
<rect x="620.45" y="623.11" width="6.0" height="6.0" fill="#ababab"/>
<rect x="624.17" y="625.01" width="6.0" height="6.0" fill="#ababab"/>
<rect x="627.90" y="626.02" width="6.0" height="6.0" fill="#ababab"/>
<rect x="631.62" y="627.09" width="6.0" height="6.0" fill="#ababab"/>
<rect x="635.35" y="623.58" width="6.0" height="6.0" fill="#ababab"/>
<rect x="639.08" y="623.58" width="6.0" height="6.0" fill="#ababab"/>
<rect x="642.80" y="623.58" width="6.0" height="6.0" fill="#ababab"/>
<path d="M474.45,699.82 L481.90,694.30 L489.35,688.18 L496.80,684.14 L504.25,679.69 L511.70,673.93 L519.15,672.20 L526.60,672.92 L534.05,670.78 L537.77,672.26 L541.50,671.07 L545.23,670.48 L548.95,670.48 L552.68,670.48 L556.40,669.29 L563.85,615.59 L571.30,641.37 L578.75,621.48 L586.20,620.58 L593.65,609.89 L601.10,606.92 L608.55,600.98 L616.00,601.58 L623.45,603.00 L627.17,604.55 L630.90,605.44 L634.62,606.03 L638.35,606.33 L642.08,606.33 L645.80,606.33" fill="none" stroke="#000" stroke-width="1.1"/>
<line x1="481.50" y1="690.50" x2="481.50" y2="698.50" stroke="#000" stroke-width="1.0"/>
<line x1="478.60" y1="690.50" x2="485.20" y2="690.50" stroke="#000" stroke-width="1.0"/>
<line x1="478.60" y1="698.50" x2="485.20" y2="698.50" stroke="#000" stroke-width="1.0"/>
<line x1="489.50" y1="684.50" x2="489.50" y2="692.50" stroke="#000" stroke-width="1.0"/>
<line x1="486.05" y1="684.50" x2="492.65" y2="684.50" stroke="#000" stroke-width="1.0"/>
<line x1="486.05" y1="692.50" x2="492.65" y2="692.50" stroke="#000" stroke-width="1.0"/>
<line x1="496.50" y1="679.50" x2="496.50" y2="688.50" stroke="#000" stroke-width="1.0"/>
<line x1="493.50" y1="679.50" x2="500.10" y2="679.50" stroke="#000" stroke-width="1.0"/>
<line x1="493.50" y1="688.50" x2="500.10" y2="688.50" stroke="#000" stroke-width="1.0"/>
<line x1="504.50" y1="675.50" x2="504.50" y2="684.50" stroke="#000" stroke-width="1.0"/>
<line x1="500.95" y1="675.50" x2="507.55" y2="675.50" stroke="#000" stroke-width="1.0"/>
<line x1="500.95" y1="684.50" x2="507.55" y2="684.50" stroke="#000" stroke-width="1.0"/>
<line x1="511.50" y1="668.50" x2="511.50" y2="678.50" stroke="#000" stroke-width="1.0"/>
<line x1="508.40" y1="668.50" x2="515.00" y2="668.50" stroke="#000" stroke-width="1.0"/>
<line x1="508.40" y1="678.50" x2="515.00" y2="678.50" stroke="#000" stroke-width="1.0"/>
<line x1="519.50" y1="667.50" x2="519.50" y2="677.50" stroke="#000" stroke-width="1.0"/>
<line x1="515.85" y1="667.50" x2="522.45" y2="667.50" stroke="#000" stroke-width="1.0"/>
<line x1="515.85" y1="677.50" x2="522.45" y2="677.50" stroke="#000" stroke-width="1.0"/>
<line x1="526.50" y1="667.50" x2="526.50" y2="677.50" stroke="#000" stroke-width="1.0"/>
<line x1="523.30" y1="667.50" x2="529.90" y2="667.50" stroke="#000" stroke-width="1.0"/>
<line x1="523.30" y1="677.50" x2="529.90" y2="677.50" stroke="#000" stroke-width="1.0"/>
<line x1="534.50" y1="664.50" x2="534.50" y2="676.50" stroke="#000" stroke-width="1.0"/>
<line x1="530.75" y1="664.50" x2="537.35" y2="664.50" stroke="#000" stroke-width="1.0"/>
<line x1="530.75" y1="676.50" x2="537.35" y2="676.50" stroke="#000" stroke-width="1.0"/>
<line x1="537.50" y1="666.50" x2="537.50" y2="678.50" stroke="#000" stroke-width="1.0"/>
<line x1="534.48" y1="666.50" x2="541.07" y2="666.50" stroke="#000" stroke-width="1.0"/>
<line x1="534.48" y1="678.50" x2="541.07" y2="678.50" stroke="#000" stroke-width="1.0"/>
<line x1="541.50" y1="665.50" x2="541.50" y2="677.50" stroke="#000" stroke-width="1.0"/>
<line x1="538.20" y1="665.50" x2="544.80" y2="665.50" stroke="#000" stroke-width="1.0"/>
<line x1="538.20" y1="677.50" x2="544.80" y2="677.50" stroke="#000" stroke-width="1.0"/>
<line x1="545.50" y1="664.50" x2="545.50" y2="676.50" stroke="#000" stroke-width="1.0"/>
<line x1="541.93" y1="664.50" x2="548.52" y2="664.50" stroke="#000" stroke-width="1.0"/>
<line x1="541.93" y1="676.50" x2="548.52" y2="676.50" stroke="#000" stroke-width="1.0"/>
<line x1="548.50" y1="664.50" x2="548.50" y2="676.50" stroke="#000" stroke-width="1.0"/>
<line x1="545.65" y1="664.50" x2="552.25" y2="664.50" stroke="#000" stroke-width="1.0"/>
<line x1="545.65" y1="676.50" x2="552.25" y2="676.50" stroke="#000" stroke-width="1.0"/>
<line x1="552.50" y1="664.50" x2="552.50" y2="676.50" stroke="#000" stroke-width="1.0"/>
<line x1="549.38" y1="664.50" x2="555.98" y2="664.50" stroke="#000" stroke-width="1.0"/>
<line x1="549.38" y1="676.50" x2="555.98" y2="676.50" stroke="#000" stroke-width="1.0"/>
<line x1="556.50" y1="663.50" x2="556.50" y2="675.50" stroke="#000" stroke-width="1.0"/>
<line x1="553.10" y1="663.50" x2="559.70" y2="663.50" stroke="#000" stroke-width="1.0"/>
<line x1="553.10" y1="675.50" x2="559.70" y2="675.50" stroke="#000" stroke-width="1.0"/>
<line x1="563.50" y1="601.50" x2="563.50" y2="629.50" stroke="#000" stroke-width="1.0"/>
<line x1="560.55" y1="601.50" x2="567.15" y2="601.50" stroke="#000" stroke-width="1.0"/>
<line x1="560.55" y1="629.50" x2="567.15" y2="629.50" stroke="#000" stroke-width="1.0"/>
<line x1="571.50" y1="633.50" x2="571.50" y2="649.50" stroke="#000" stroke-width="1.0"/>
<line x1="568.00" y1="633.50" x2="574.60" y2="633.50" stroke="#000" stroke-width="1.0"/>
<line x1="568.00" y1="649.50" x2="574.60" y2="649.50" stroke="#000" stroke-width="1.0"/>
<line x1="578.50" y1="613.50" x2="578.50" y2="629.50" stroke="#000" stroke-width="1.0"/>
<line x1="575.45" y1="613.50" x2="582.05" y2="613.50" stroke="#000" stroke-width="1.0"/>
<line x1="575.45" y1="629.50" x2="582.05" y2="629.50" stroke="#000" stroke-width="1.0"/>
<line x1="586.50" y1="614.50" x2="586.50" y2="627.50" stroke="#000" stroke-width="1.0"/>
<line x1="582.90" y1="614.50" x2="589.50" y2="614.50" stroke="#000" stroke-width="1.0"/>
<line x1="582.90" y1="627.50" x2="589.50" y2="627.50" stroke="#000" stroke-width="1.0"/>
<line x1="593.50" y1="602.50" x2="593.50" y2="617.50" stroke="#000" stroke-width="1.0"/>
<line x1="590.35" y1="602.50" x2="596.95" y2="602.50" stroke="#000" stroke-width="1.0"/>
<line x1="590.35" y1="617.50" x2="596.95" y2="617.50" stroke="#000" stroke-width="1.0"/>
<line x1="601.50" y1="599.50" x2="601.50" y2="614.50" stroke="#000" stroke-width="1.0"/>
<line x1="597.80" y1="599.50" x2="604.40" y2="599.50" stroke="#000" stroke-width="1.0"/>
<line x1="597.80" y1="614.50" x2="604.40" y2="614.50" stroke="#000" stroke-width="1.0"/>
<line x1="608.50" y1="592.50" x2="608.50" y2="609.50" stroke="#000" stroke-width="1.0"/>
<line x1="605.25" y1="592.50" x2="611.85" y2="592.50" stroke="#000" stroke-width="1.0"/>
<line x1="605.25" y1="609.50" x2="611.85" y2="609.50" stroke="#000" stroke-width="1.0"/>
<line x1="616.50" y1="593.50" x2="616.50" y2="609.50" stroke="#000" stroke-width="1.0"/>
<line x1="612.70" y1="593.50" x2="619.30" y2="593.50" stroke="#000" stroke-width="1.0"/>
<line x1="612.70" y1="609.50" x2="619.30" y2="609.50" stroke="#000" stroke-width="1.0"/>
<line x1="623.50" y1="596.50" x2="623.50" y2="609.50" stroke="#000" stroke-width="1.0"/>
<line x1="620.15" y1="596.50" x2="626.75" y2="596.50" stroke="#000" stroke-width="1.0"/>
<line x1="620.15" y1="609.50" x2="626.75" y2="609.50" stroke="#000" stroke-width="1.0"/>
<line x1="627.50" y1="597.50" x2="627.50" y2="611.50" stroke="#000" stroke-width="1.0"/>
<line x1="623.88" y1="597.50" x2="630.47" y2="597.50" stroke="#000" stroke-width="1.0"/>
<line x1="623.88" y1="611.50" x2="630.47" y2="611.50" stroke="#000" stroke-width="1.0"/>
<line x1="630.50" y1="598.50" x2="630.50" y2="612.50" stroke="#000" stroke-width="1.0"/>
<line x1="627.60" y1="598.50" x2="634.20" y2="598.50" stroke="#000" stroke-width="1.0"/>
<line x1="627.60" y1="612.50" x2="634.20" y2="612.50" stroke="#000" stroke-width="1.0"/>
<line x1="634.50" y1="598.50" x2="634.50" y2="613.50" stroke="#000" stroke-width="1.0"/>
<line x1="631.33" y1="598.50" x2="637.92" y2="598.50" stroke="#000" stroke-width="1.0"/>
<line x1="631.33" y1="613.50" x2="637.92" y2="613.50" stroke="#000" stroke-width="1.0"/>
<line x1="638.50" y1="599.50" x2="638.50" y2="613.50" stroke="#000" stroke-width="1.0"/>
<line x1="635.05" y1="599.50" x2="641.65" y2="599.50" stroke="#000" stroke-width="1.0"/>
<line x1="635.05" y1="613.50" x2="641.65" y2="613.50" stroke="#000" stroke-width="1.0"/>
<line x1="642.50" y1="599.50" x2="642.50" y2="613.50" stroke="#000" stroke-width="1.0"/>
<line x1="638.78" y1="599.50" x2="645.38" y2="599.50" stroke="#000" stroke-width="1.0"/>
<line x1="638.78" y1="613.50" x2="645.38" y2="613.50" stroke="#000" stroke-width="1.0"/>
<line x1="645.50" y1="599.50" x2="645.50" y2="613.50" stroke="#000" stroke-width="1.0"/>
<line x1="642.50" y1="599.50" x2="649.10" y2="599.50" stroke="#000" stroke-width="1.0"/>
<line x1="642.50" y1="613.50" x2="649.10" y2="613.50" stroke="#000" stroke-width="1.0"/>
<circle cx="474.45" cy="699.82" r="3.0" fill="#000"/>
<circle cx="481.90" cy="694.30" r="3.0" fill="#000"/>
<circle cx="489.35" cy="688.18" r="3.0" fill="#000"/>
<circle cx="496.80" cy="684.14" r="3.0" fill="#000"/>
<circle cx="504.25" cy="679.69" r="3.0" fill="#000"/>
<circle cx="511.70" cy="673.93" r="3.0" fill="#000"/>
<circle cx="519.15" cy="672.20" r="3.0" fill="#000"/>
<circle cx="526.60" cy="672.92" r="3.0" fill="#000"/>
<circle cx="534.05" cy="670.78" r="3.0" fill="#000"/>
<circle cx="537.77" cy="672.26" r="3.0" fill="#000"/>
<circle cx="541.50" cy="671.07" r="3.0" fill="#000"/>
<circle cx="545.23" cy="670.48" r="3.0" fill="#000"/>
<circle cx="548.95" cy="670.48" r="3.0" fill="#000"/>
<circle cx="552.68" cy="670.48" r="3.0" fill="#000"/>
<circle cx="556.40" cy="669.29" r="3.0" fill="#000"/>
<circle cx="563.85" cy="615.59" r="3.0" fill="#000"/>
<circle cx="571.30" cy="641.37" r="3.0" fill="#000"/>
<circle cx="578.75" cy="621.48" r="3.0" fill="#000"/>
<circle cx="586.20" cy="620.58" r="3.0" fill="#000"/>
<circle cx="593.65" cy="609.89" r="3.0" fill="#000"/>
<circle cx="601.10" cy="606.92" r="3.0" fill="#000"/>
<circle cx="608.55" cy="600.98" r="3.0" fill="#000"/>
<circle cx="616.00" cy="601.58" r="3.0" fill="#000"/>
<circle cx="623.45" cy="603.00" r="3.0" fill="#000"/>
<circle cx="627.17" cy="604.55" r="3.0" fill="#000"/>
<circle cx="630.90" cy="605.44" r="3.0" fill="#000"/>
<circle cx="634.62" cy="606.03" r="3.0" fill="#000"/>
<circle cx="638.35" cy="606.33" r="3.0" fill="#000"/>
<circle cx="642.08" cy="606.33" r="3.0" fill="#000"/>
<circle cx="645.80" cy="606.33" r="3.0" fill="#000"/>
</svg>
</body></html>
